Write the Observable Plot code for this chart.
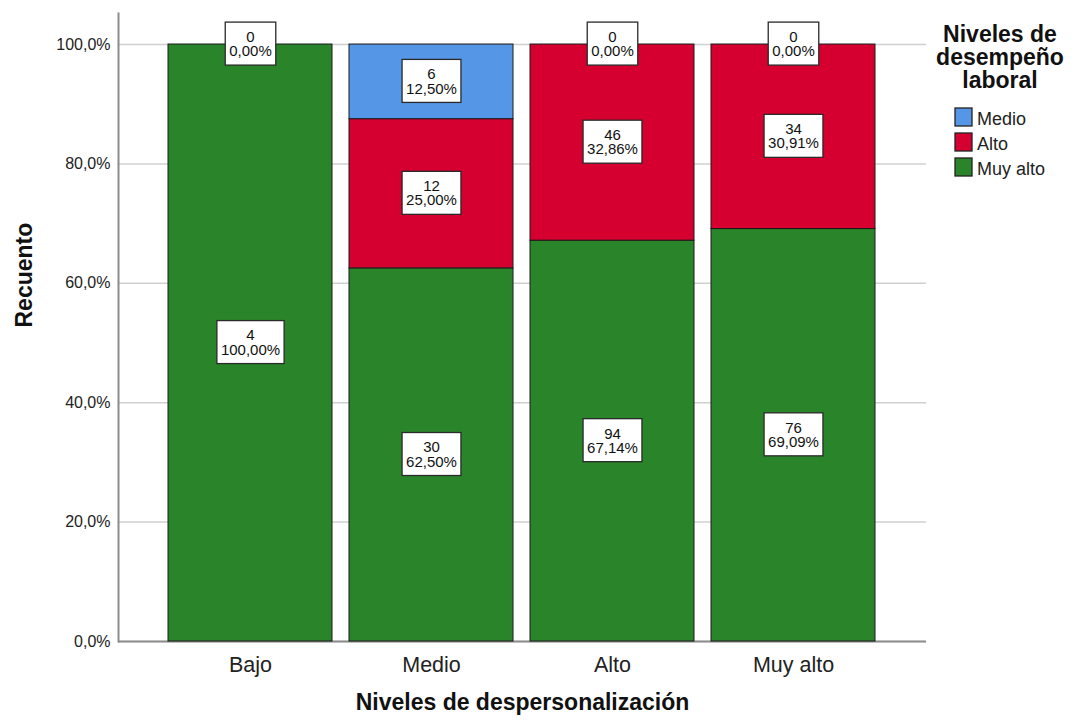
<!DOCTYPE html>
<html>
<head>
<meta charset="utf-8">
<script src="https://cdn.jsdelivr.net/npm/d3@7"></script>
<script src="https://cdn.jsdelivr.net/npm/@observablehq/plot@0.6"></script>
<style>
  html, body { margin: 0; padding: 0; background: #ffffff; }
  #chart { position: relative; width: 1072px; height: 721px; }
</style>
</head>
<body>
<div id="chart"></div>
<script>
// ---- data ----
const categories = ["Bajo", "Medio", "Alto", "Muy alto"];          // Niveles de despersonalización
const levels = ["Medio", "Alto", "Muy alto"];                      // Niveles de desempeño laboral (legend order)
const countsMedio   = [0, 6, 0, 0];
const countsAlto    = [0, 12, 46, 34];
const countsMuyAlto = [4, 30, 94, 76];
const levelColors = ["#5596e6", "#d5002f", "#2a852a"];
const yTicks = [0, 0.2, 0.4, 0.6, 0.8, 1.0];
const legendTitle = ["Niveles de", "desempeño", "laboral"];
const xTitle = "Niveles de despersonalización";
const yTitle = "Recuento";

// ---- build table (stack order: Muy alto bottom, then Alto, then Medio) ----
const seriesByLevel = {"Medio": countsMedio, "Alto": countsAlto, "Muy alto": countsMuyAlto};
const stackOrder = ["Muy alto", "Alto", "Medio"];
const rows = [];
categories.forEach((cat, i) => {
  const total = levels.reduce((s, l) => s + seriesByLevel[l][i], 0);
  stackOrder.forEach(l => {
    const count = seriesByLevel[l][i];
    rows.push({cat, level: l, count, pct: count / total});
  });
});
// one label per position: zero segments at the same spot share a single label
const seenZero = new Set();
const labelRows = rows.filter(r => {
  if (r.count !== 0) return true;
  if (seenZero.has(r.cat)) return false;
  seenZero.add(r.cat);
  return true;
});

const fmtTick = d => (d * 100).toFixed(1).replace(".", ",") + "%";
const fmtPct = d => (d * 100).toFixed(2).replace(".", ",") + "%";

const plot = Plot.plot({
  width: 1072,
  height: 721,
  marginLeft: 118,
  marginRight: 146,
  marginTop: 13,
  marginBottom: 80,
  style: {fontFamily: "'Liberation Sans', Arial, sans-serif", color: "#222", background: "#ffffff"},
  x: {domain: categories, paddingInner: 0.092, paddingOuter: 0.27, label: null},
  y: {domain: [0, 1.052], label: null},
  color: {domain: levels, range: levelColors},
  marks: [
    Plot.gridY(yTicks, {stroke: "#d0d0d0", strokeOpacity: 1, strokeWidth: 1.5}),
    Plot.ruleY([0], {stroke: "#8c8c8c", strokeWidth: 2}),
    Plot.frame({anchor: "left", stroke: "#8c8c8c", strokeWidth: 2}),
    Plot.barY(rows, {x: "cat", y: "pct", fill: "level", stroke: "#1a1a1a", strokeWidth: 1}),
    Plot.text(labelRows, Plot.stackY({
      x: "cat", y: "pct", z: "level",
      text: d => `${d.count}\n${fmtPct(d.pct)}`,
      fontSize: 15, lineHeight: 0.95, fill: "#111"
    })),
    Plot.axisY({ticks: yTicks, tickFormat: fmtTick, tickSize: 0, tickPadding: 8, fontSize: 16, label: null}),
    Plot.axisX({tickSize: 0, tickPadding: 15, fontSize: 21.5, label: null}),
    Plot.text([yTitle], {text: d => d, frameAnchor: "left", dx: -94, rotate: -90, fontSize: 23, fontWeight: "bold", fill: "#111"}),
    Plot.text([xTitle], {text: d => d, frameAnchor: "bottom", dy: 68, fontSize: 23, fontWeight: "bold", fill: "#111"})
  ]
});

document.getElementById("chart").appendChild(plot);

// ---- white boxes behind segment labels ----
const svg = d3.select(plot);
const labelGroup = plot.querySelectorAll('g[aria-label="text"]')[0];
if (labelGroup) {
  const boxG = document.createElementNS("http://www.w3.org/2000/svg", "g");
  if (labelGroup.getAttribute("transform")) boxG.setAttribute("transform", labelGroup.getAttribute("transform"));
  labelGroup.parentNode.insertBefore(boxG, labelGroup);
  labelGroup.querySelectorAll(":scope > text").forEach(t => {
    const bb = t.getBBox();
    const cy = bb.y + bb.height / 2;
    const r = document.createElementNS("http://www.w3.org/2000/svg", "rect");
    r.setAttribute("x", bb.x - 4);
    r.setAttribute("y", cy - 21.5);
    r.setAttribute("width", bb.width + 8);
    r.setAttribute("height", 43);
    r.setAttribute("fill", "#ffffff");
    r.setAttribute("stroke", "#2a2a2a");
    r.setAttribute("stroke-width", 1.3);
    if (t.getAttribute("transform")) r.setAttribute("transform", t.getAttribute("transform"));
    boxG.appendChild(r);
  });
}

// ---- legend ----
const lg = svg.append("g").attr("font-family", "'Liberation Sans', Arial, sans-serif");
lg.selectAll("text.title").data(legendTitle).join("text")
  .attr("class", "title")
  .attr("x", 1000).attr("y", (d, i) => 42 + i * 23)
  .attr("text-anchor", "middle").attr("font-size", 23).attr("font-weight", "bold").attr("fill", "#111")
  .text(d => d);
const items = lg.selectAll("g.item").data(levels).join("g").attr("class", "item")
  .attr("transform", (d, i) => `translate(0, ${i * 25})`);
items.append("rect").attr("x", 955).attr("y", 108).attr("width", 17).attr("height", 18)
  .attr("fill", (d, i) => levelColors[i]).attr("stroke", "#222").attr("stroke-width", 1.3);
items.append("text").attr("x", 977).attr("y", 124.5).attr("text-anchor", "start")
  .attr("font-size", 18).attr("fill", "#222")
  .text(d => d);
</script>
</body>
</html>
